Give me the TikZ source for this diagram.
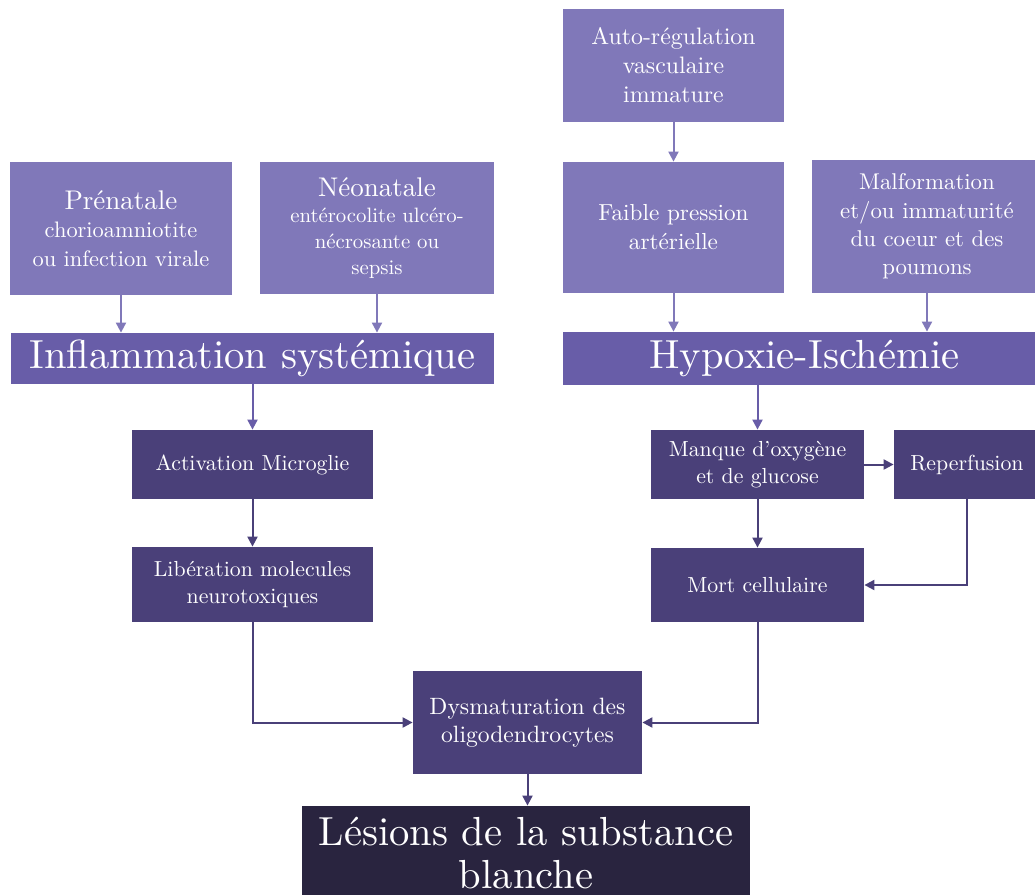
\documentclass[tikz,border=0pt]{standalone}
\usepackage{fontspec}
\setmainfont{lmroman10-regular}[Extension=.otf, Ligatures=TeX]
\usetikzlibrary{arrows.meta}
\definecolor{lightp}{HTML}{8078B9}
\definecolor{midp}{HTML}{685DA8}
\definecolor{darkp}{HTML}{4A4079}
\definecolor{deepp}{HTML}{29243F}
\begin{document}
\begin{tikzpicture}[x=0.5pt,y=-0.5pt,
  box/.style={rectangle, inner sep=0pt, text=white, align=center},
  lbox/.style={box, fill=lightp},
  mbox/.style={box, fill=midp, font=\fontsize{20.3}{22}\selectfont},
  dbox/.style={box, fill=darkp, font=\fontsize{10.9}{13.8}\selectfont},
  ebox/.style={box, fill=deepp, font=\fontsize{20.3}{21.5}\selectfont},
  arr/.style={line width=1pt, -{Triangle[length=5pt,width=5pt]}},
  larr/.style={arr, draw=lightp},
  marr/.style={arr, draw=midp},
  darr/.style={arr, draw=darkp}]
\useasboundingbox (0,0) rectangle (1035,895);
% top row
\node[lbox, minimum width=111pt, minimum height=66.5pt, font=\fontsize{11.2}{14.3}\selectfont] (pre) at (121,228.5)
  {{\fontsize{13.5}{14.3}\selectfont Prénatale}\\ chorioamniotite\\ ou infection virale};
\node[lbox, minimum width=117pt, minimum height=66pt, font=\fontsize{10.4}{13}\selectfont] (neo) at (377,228)
  {{\fontsize{13.5}{14.5}\selectfont Néonatale}\\ entérocolite ulcéro-\\ nécrosante ou\\ sepsis};
\node[lbox, minimum width=110.5pt, minimum height=56.5pt, font=\fontsize{11.9}{14.5}\selectfont] (auto) at (673.5,65.5)
  {Auto-régulation\\ vasculaire\\ immature};
\node[lbox, minimum width=110.5pt, minimum height=65.5pt, font=\fontsize{11.6}{14.5}\selectfont] (faible) at (673.5,227.5)
  {Faible pression\\ artérielle};
\node[lbox, minimum width=115pt, minimum height=66.5pt, font=\fontsize{11.4}{14.2}\selectfont] (malf) at (927,226.5)
  {Malformation\\ et/ou immaturité\\ du coeur et des\\ poumons};
% main bars
\node[mbox, minimum width=241.5pt, minimum height=25.5pt] (inf) at (252.5,358.5) {Inflammation systémique};
\node[mbox, minimum width=241.5pt, minimum height=26.5pt] (hyp) at (804.5,358.5) {Hypoxie-Ischémie};
% dark boxes
\node[dbox, minimum width=120.5pt, minimum height=34.5pt] (act) at (252.5,464.5) {Activation Microglie};
\node[dbox, minimum width=120.5pt, minimum height=37.5pt] (lib) at (252.5,584.5) {Libération molecules\\ neurotoxiques};
\node[dbox, minimum width=106.5pt, minimum height=34.5pt] (manque) at (757.5,464.5) {Manque d’oxygène\\ et de glucose};
\node[dbox, minimum width=73pt, minimum height=34.5pt] (reperf) at (967,464.5) {Reperfusion};
\node[dbox, minimum width=106.5pt, minimum height=37pt] (mort) at (757.5,585) {Mort cellulaire};
\node[dbox, minimum width=114.5pt, minimum height=51.5pt, font=\fontsize{11.8}{14}\selectfont] (dys) at (527.5,722.5) {Dysmaturation des\\ oligodendrocytes};
\node[ebox, minimum width=224pt, minimum height=47pt] (les) at (526,853) {Lésions de la substance\\ blanche};
% connectors
\draw[larr] (pre.south) -- (pre.south |- inf.north);
\draw[larr] (neo.south) -- (neo.south |- inf.north);
\draw[larr] (auto.south) -- (faible.north);
\draw[larr] (faible.south) -- (faible.south |- hyp.north);
\draw[larr] (malf.south) -- (malf.south |- hyp.north);
\draw[marr] (inf.south) -- (act.north);
\draw[marr] (hyp.south -| manque.north) -- (manque.north);
\draw[darr] (act.south) -- (lib.north);
\draw[darr] (manque.east) -- (reperf.west);
\draw[darr] (manque.south) -- (mort.north);
\draw[darr] (reperf.south) |- (mort.east);
\draw[darr] (lib.south) |- (dys.west);
\draw[darr] (mort.south) |- (dys.east);
\draw[darr] (dys.south) -- (dys.south |- les.north);
\end{tikzpicture}
\end{document}
